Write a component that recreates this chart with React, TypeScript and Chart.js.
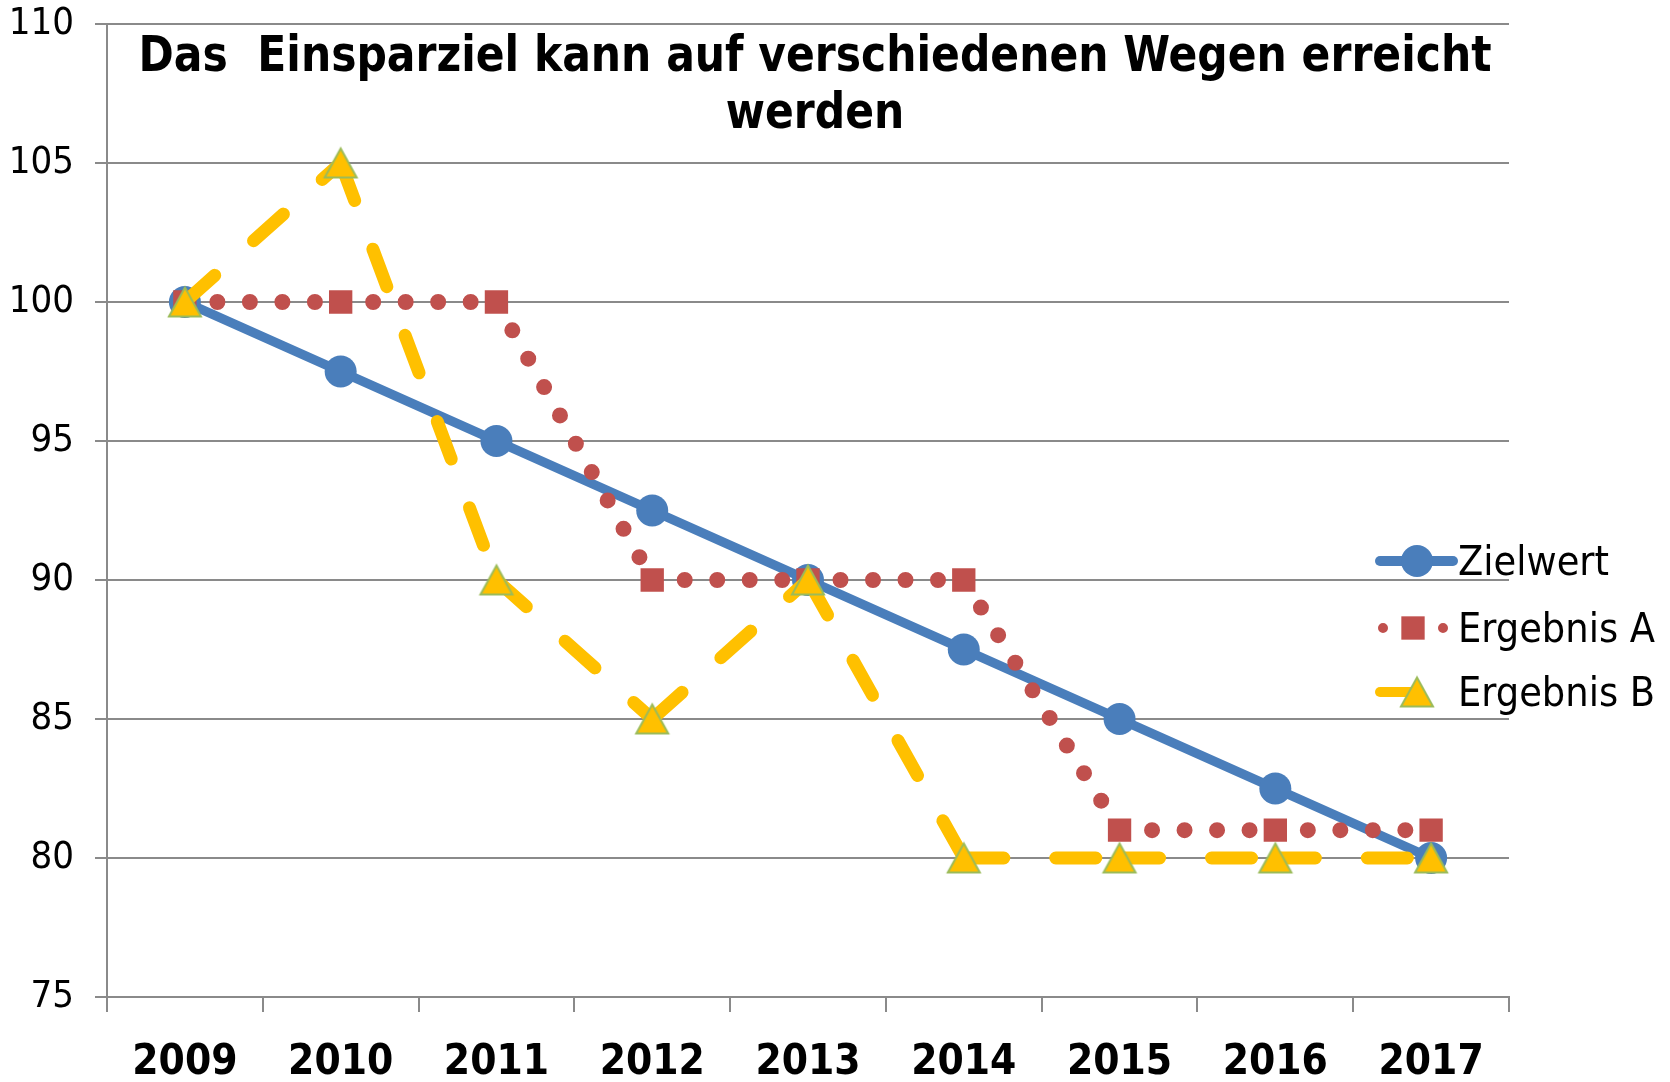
import React, { useEffect, useRef } from 'react';
import { Chart, registerables } from 'chart.js';

Chart.register(...registerables);

// ---- data ----
const years = ['2009', '2010', '2011', '2012', '2013', '2014', '2015', '2016', '2017'];
const zielwert = [100, 97.5, 95, 92.5, 90, 87.5, 85, 82.5, 80];
const ergebnisA = [100, 100, 100, 90, 90, 90, 81, 81, 81];
const ergebnisB = [100, 105, 90, 85, 90, 80, 80, 80, 80];
const seriesNames = ['Zielwert', 'Ergebnis A', 'Ergebnis B'];
const yMin = 75;
const yMax = 110;
const yStep = 5;
const titleLines = ['Das  Einsparziel kann auf verschiedenen Wegen erreicht', 'werden'];

// ---- styles ----
const FONT = "'DejaVu Sans Condensed', 'DejaVu Sans', sans-serif";
const GRID = '#8a8a8a';
const BLUE = '#4A7EBB';
const RED = '#C0504D';
const YELLOW = '#FFC000';
const GREEN = '#9BBB59';

// restart the dash pattern at every data point (as the original does)
const restartDash = { borderDashOffset: (ctx: any) => (ctx.p0DataIndex % 2 ? 0.001 : 0) };

function makeTriangle(w: number, h: number, fill: string, stroke: string, lw: number) {
  const c = document.createElement('canvas');
  const pad = lw + 1;
  c.width = w + 2 * pad;
  c.height = h + 2 * pad;
  const g = c.getContext('2d')!;
  g.beginPath();
  g.moveTo(c.width / 2, pad);
  g.lineTo(c.width - pad, pad + h);
  g.lineTo(pad, pad + h);
  g.closePath();
  g.fillStyle = fill;
  g.fill();
  g.lineWidth = lw;
  g.strokeStyle = stroke;
  g.lineJoin = 'miter';
  g.stroke();
  return c;
}

const titlePlugin = {
  id: 'overlayTitle',
  afterDraw(chart: any) {
    const ctx = chart.ctx;
    const ca = chart.chartArea;
    ctx.save();
    ctx.font = `bold 49px ${FONT}`;
    ctx.fillStyle = '#000';
    ctx.textAlign = 'center';
    ctx.textBaseline = 'alphabetic';
    const target = 1353;
    const sx = target / ctx.measureText(titleLines[0]).width;
    const cx = (ca.left + ca.right) / 2 + 7;
    const baselines = [71, 128];
    titleLines.forEach((line, i) => {
      ctx.save();
      ctx.translate(cx, baselines[i]);
      ctx.scale(sx, 1);
      ctx.fillText(line, 0, 0);
      ctx.restore();
    });
    ctx.restore();
  },
};

const legendPlugin = {
  id: 'overlayLegend',
  afterDraw(chart: any) {
    const ctx = chart.ctx;
    const rows = [561, 628, 692];
    const x0 = 1378;
    const x1 = 1453;
    const mx = 1417;
    ctx.save();
    chart.data.datasets.forEach((ds: any, i: number) => {
      const y = rows[i];
      ctx.save();
      ctx.strokeStyle = ds.borderColor;
      ctx.lineCap = 'round';
      ctx.lineWidth = 10;
      if (i === 1) {
        ctx.setLineDash([0, 30]);
        ctx.beginPath();
        ctx.moveTo(x0 + 5, y);
        ctx.lineTo(x1 - 5, y);
        ctx.stroke();
      } else if (i === 2) {
        ctx.beginPath();
        ctx.moveTo(x0 + 2, y);
        ctx.lineTo(mx, y);
        ctx.stroke();
      } else {
        ctx.beginPath();
        ctx.moveTo(x0 + 2, y);
        ctx.lineTo(x1, y);
        ctx.stroke();
      }
      ctx.setLineDash([]);
      const ps = ds.pointStyle;
      if (ps instanceof HTMLCanvasElement) {
        ctx.drawImage(ps, mx - ps.width / 2, y - ps.height / 2);
      } else if (ps === 'rect') {
        const s = ds.pointRadius * Math.SQRT1_2;
        ctx.fillStyle = ds.pointBackgroundColor;
        ctx.fillRect(mx - 4 - s, y - s, 2 * s, 2 * s);
      } else {
        ctx.fillStyle = ds.pointBackgroundColor;
        ctx.beginPath();
        ctx.arc(mx, y, ds.pointRadius, 0, Math.PI * 2);
        ctx.fill();
      }
      ctx.restore();
      ctx.fillStyle = '#000';
      ctx.font = `41px ${FONT}`;
      ctx.textAlign = 'left';
      ctx.textBaseline = 'alphabetic';
      ctx.fillText(ds.label, 1458, y + 14);
    });
    ctx.restore();
  },
};

export default function App() {
  const ref = useRef<HTMLCanvasElement | null>(null);

  useEffect(() => {
    if (!ref.current) return;
    const tri = makeTriangle(32, 29, YELLOW, GREEN, 2);
    const chart = new Chart(ref.current, {
      type: 'line',
      data: {
        labels: years,
        datasets: [
          {
            label: seriesNames[0],
            data: zielwert,
            borderColor: BLUE,
            backgroundColor: BLUE,
            borderWidth: 9.5,
            pointStyle: 'circle',
            pointRadius: 16,
            pointBorderWidth: 0,
            pointBackgroundColor: BLUE,
            pointBorderColor: BLUE,
            tension: 0,
            order: 3,
          },
          {
            label: seriesNames[1],
            data: ergebnisA,
            borderColor: RED,
            backgroundColor: RED,
            borderWidth: 16,
            borderDash: [0, 32.5],
            borderCapStyle: 'round',
            segment: restartDash,
            pointStyle: 'rect',
            pointRadius: 16.5,
            pointBorderWidth: 0,
            pointBackgroundColor: RED,
            pointBorderColor: RED,
            tension: 0,
            order: 2,
          },
          {
            label: seriesNames[2],
            data: ergebnisB,
            borderColor: YELLOW,
            backgroundColor: YELLOW,
            borderWidth: 13,
            borderDash: [40, 52],
            borderCapStyle: 'round',
            segment: restartDash,
            pointStyle: tri as any,
            pointRadius: 16,
            pointBorderWidth: 0,
            tension: 0,
            order: 1,
          },
        ],
      },
      options: {
        responsive: false,
        animation: false,
        layout: { padding: { left: 0, right: 161, top: 24, bottom: 0 } },
        plugins: {
          legend: { display: false },
          title: { display: false },
          tooltip: { enabled: false },
        },
        scales: {
          x: {
            type: 'category',
            offset: true,
            grid: {
              offset: true,
              drawOnChartArea: false,
              drawTicks: true,
              tickLength: 15,
              color: GRID,
              lineWidth: 2,
            },
            border: { display: true, color: GRID, width: 2 },
            ticks: {
              font: { family: FONT, size: 42, weight: 'bold', lineHeight: 0.9 },
              color: '#000',
              padding: 32,
              maxRotation: 0,
              autoSkip: false,
            },
            afterFit(scale: any) {
              scale.height = 85;
              scale.paddingLeft = 0;
              scale.paddingRight = 0;
            },
          },
          y: {
            min: yMin,
            max: yMax,
            ticks: {
              stepSize: yStep,
              font: { family: FONT, size: 38, lineHeight: 1.2 },
              color: '#000',
              padding: 21,
            },
            grid: { color: GRID, lineWidth: 2, tickLength: 12 },
            border: { display: true, color: GRID, width: 2 },
            afterFit(scale: any) {
              scale.width = 107;
              scale.paddingTop = 0;
              scale.paddingBottom = 0;
            },
          },
        },
      },
      plugins: [titlePlugin, legendPlugin],
    });
    return () => chart.destroy();
  }, []);

  return (
    <div style={{ position: 'fixed', left: 0, top: 0, width: 1670, height: 1082, background: '#fff' }}>
      <canvas ref={ref} width={1670} height={1082} style={{ width: 1670, height: 1082, display: 'block' }} />
    </div>
  );
}
